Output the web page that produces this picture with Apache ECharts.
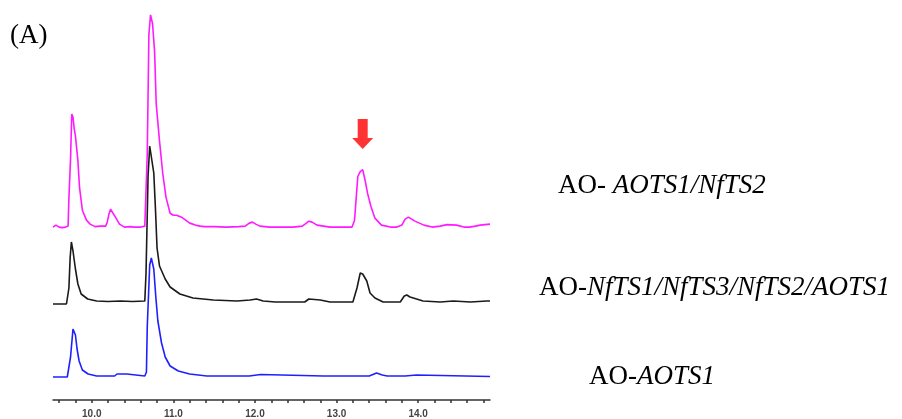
<!DOCTYPE html>
<html>
<head>
<meta charset="utf-8">
<script src="https://cdn.jsdelivr.net/npm/echarts@6/dist/echarts.min.js"></script>
<style>
html,body{margin:0;padding:0;background:#fff;}
#chart{width:902px;height:419px;}
</style>
</head>
<body>
<div id="chart"></div>
<script>
// Retention time (min) and relative signal for each trace
var magentaTime = [9.525,9.56,9.60,9.64,9.68,9.71,9.72,9.74,9.755,9.77,9.785,9.80,9.83,9.85,9.885,9.935,9.98,10.04,10.10,10.17,10.19,10.21,10.23,10.25,10.29,10.34,10.40,10.47,10.52,10.54,10.57,10.60,10.65,10.67,10.68,10.70,10.72,10.745,10.77,10.79,10.83,10.87,10.91,10.96,11.00,11.04,11.10,11.15,11.20,11.27,11.33,11.35,11.38,11.50,11.65,11.80,11.88,11.93,11.97,12.01,12.06,12.18,12.30,12.47,12.58,12.63,12.66,12.70,12.76,12.84,12.92,13.05,13.19,13.22,13.24,13.26,13.29,13.32,13.35,13.38,13.42,13.47,13.55,13.66,13.74,13.80,13.84,13.88,13.92,13.96,14.07,14.17,14.27,14.35,14.47,14.56,14.63,14.70,14.76,14.82,14.88];
var magentaSignal = [1,3,1,0.5,1,2,30,70,115,112,100,93,68,41,18,8,4,1.5,2,2,6,14,19,17,11,4,1,1.5,1,3,1,1,2,2,75,195,215,206,178,125,88,55,31,15,13,13,11,8,5,3,2,3,1.5,1.5,1,1.5,2,5,6,4,2,1,1,1,2,5,7,6,3,2,1,1,1,8,30,52,57,59,48,35,22,10,3,1,1,3,9,11,9,7,3,1,2,3.5,3,1,1,2,3,3.5,4];

var blackTime = [9.525,9.60,9.69,9.72,9.735,9.75,9.77,9.80,9.83,9.87,9.95,10.06,10.20,10.35,10.50,10.65,10.665,10.69,10.71,10.73,10.76,10.78,10.80,10.83,10.90,10.96,11.08,11.24,11.49,11.78,11.94,12.02,12.10,12.25,12.61,12.66,12.80,12.92,13.20,13.25,13.29,13.32,13.37,13.41,13.47,13.57,13.78,13.83,13.86,13.90,14.06,14.27,14.43,14.64,14.84,14.88];
var blackSignal = [-1,-1,-1,15,45,61,52,34,19,9,4,2,1.5,2,1.5,2,30,127,157,157,130,95,55,37,24,16,9,5,3,2,3,4,2,1,1,4,3,1,1,15,30,29,22,10,5,1,1,7,8,6,2,1,2,1,2,2];

var blueTime = [9.525,9.70,9.72,9.74,9.77,9.80,9.82,9.845,9.885,9.955,10.06,10.28,10.31,10.43,10.45,10.65,10.67,10.68,10.71,10.73,10.76,10.785,10.81,10.855,10.90,10.96,11.06,11.20,11.41,11.93,11.95,12.07,12.09,12.84,12.85,12.86,13.40,13.49,13.56,13.62,13.84,13.86,13.98,14.00,14.88];
var blueSignal = [0,0,2,20,48,42,28,16,7,3,1,1,3,3,1,1,5,50,112,119,108,80,56,34,20,11,6,3,1,1,2.5,2.5,1,1,2.5,1,1,4,2,1,1,2,2,0.5,0.5];

var tickValues = [9.6,9.8,10.0,10.2,10.4,10.6,10.8,11.0,11.2,11.4,11.6,11.8,12.0,12.2,12.4,12.6,12.8,13.0,13.2,13.4,13.6,13.8,14.0,14.2,14.4,14.6,14.8];
var labelValues = [10.0,11.0,12.0,13.0,14.0];
var arrowPoint = [[13.32, 95]];

var traceNames = ['AO- AOTS1/NfTS2', 'AO-NfTS1/NfTS3/NfTS2/AOTS1', 'AO-AOTS1'];

function pairs(t, v){ return t.map(function(x,i){ return [x, v[i]]; }); }

var X_MIN = 9.525, X_MAX = 14.88;
var baselines = [228, 303, 377]; // pixel baselines of the stacked traces
var H = 240;

var grids = [], xAxes = [], yAxes = [];
baselines.forEach(function(b, i){
  grids.push({left:53, right:412, bottom:419 - b - 10, height:H});
  xAxes.push({type:'value', gridIndex:i, min:X_MIN, max:X_MAX, show:false});
  yAxes.push({type:'value', gridIndex:i, min:-10, max:230, show:false});
});
// axis-only grid
grids.push({left:53, right:412, bottom:19, height:50});
xAxes.push({
  type:'value', gridIndex:3, min:X_MIN, max:X_MAX,
  splitLine:{show:false},
  axisLine:{show:true, lineStyle:{color:'#333', width:1.5}},
  axisTick:{show:true, inside:false, length:3, customValues:tickValues, lineStyle:{color:'#333', width:1.5}},
  axisLabel:{show:true, customValues:labelValues, margin:9, fontSize:10, fontWeight:'bold', color:'#444',
    fontFamily:'Liberation Sans, Arial, sans-serif', formatter:function(v){ return Number(v).toFixed(1); }}
});
yAxes.push({type:'value', gridIndex:3, show:false});

var lineCommon = {type:'line', showSymbol:false, symbol:'none', silent:true, animation:false};

var serif = '"Liberation Serif", "Times New Roman", serif';
function label(x, y, reg, ital){
  return {
    type:'text', left:x, top:y,
    style:{
      text:'{r|' + reg + '}{i|' + ital + '}',
      rich:{
        r:{fontFamily:serif, fontSize:27, fill:'#000', fontStyle:'normal'},
        i:{fontFamily:serif, fontSize:27, fill:'#000', fontStyle:'italic'}
      }
    }
  };
}

var chart = echarts.init(document.getElementById('chart'), null, {renderer:'canvas'});
chart.setOption({
  animation:false,
  backgroundColor:'#fff',
  grid:grids, xAxis:xAxes, yAxis:yAxes,
  series:[
    Object.assign({}, lineCommon, {name:traceNames[0], xAxisIndex:0, yAxisIndex:0, data:pairs(magentaTime, magentaSignal), lineStyle:{color:'#ff1aff', width:1.6}, z:2}),
    Object.assign({}, lineCommon, {name:traceNames[1], xAxisIndex:1, yAxisIndex:1, data:pairs(blackTime, blackSignal), lineStyle:{color:'#1a1a1a', width:1.6}, z:3}),
    Object.assign({}, lineCommon, {name:traceNames[2], xAxisIndex:2, yAxisIndex:2, data:pairs(blueTime, blueSignal), lineStyle:{color:'#2020ff', width:1.6}, z:4}),
    {type:'scatter', xAxisIndex:0, yAxisIndex:0, data:arrowPoint, silent:true, z:5,
     symbol:'path://M5.5,0 H15.5 V19 H21 L10.5,30 L0,19 H5.5 Z', symbolSize:[21,30],
     itemStyle:{color:'#ff0000'}}
  ],
  graphic:[
    {type:'text', left:10, top:22, style:{text:'(A)', font:'27px ' + serif, fill:'#000'}},
    label(558, 172, 'AO- ', 'AOTS1/NfTS2'),
    label(539, 274, 'AO-', 'NfTS1/NfTS3/NfTS2/AOTS1'),
    label(589, 363, 'AO-', 'AOTS1')
  ]
});
</script>
</body>
</html>
